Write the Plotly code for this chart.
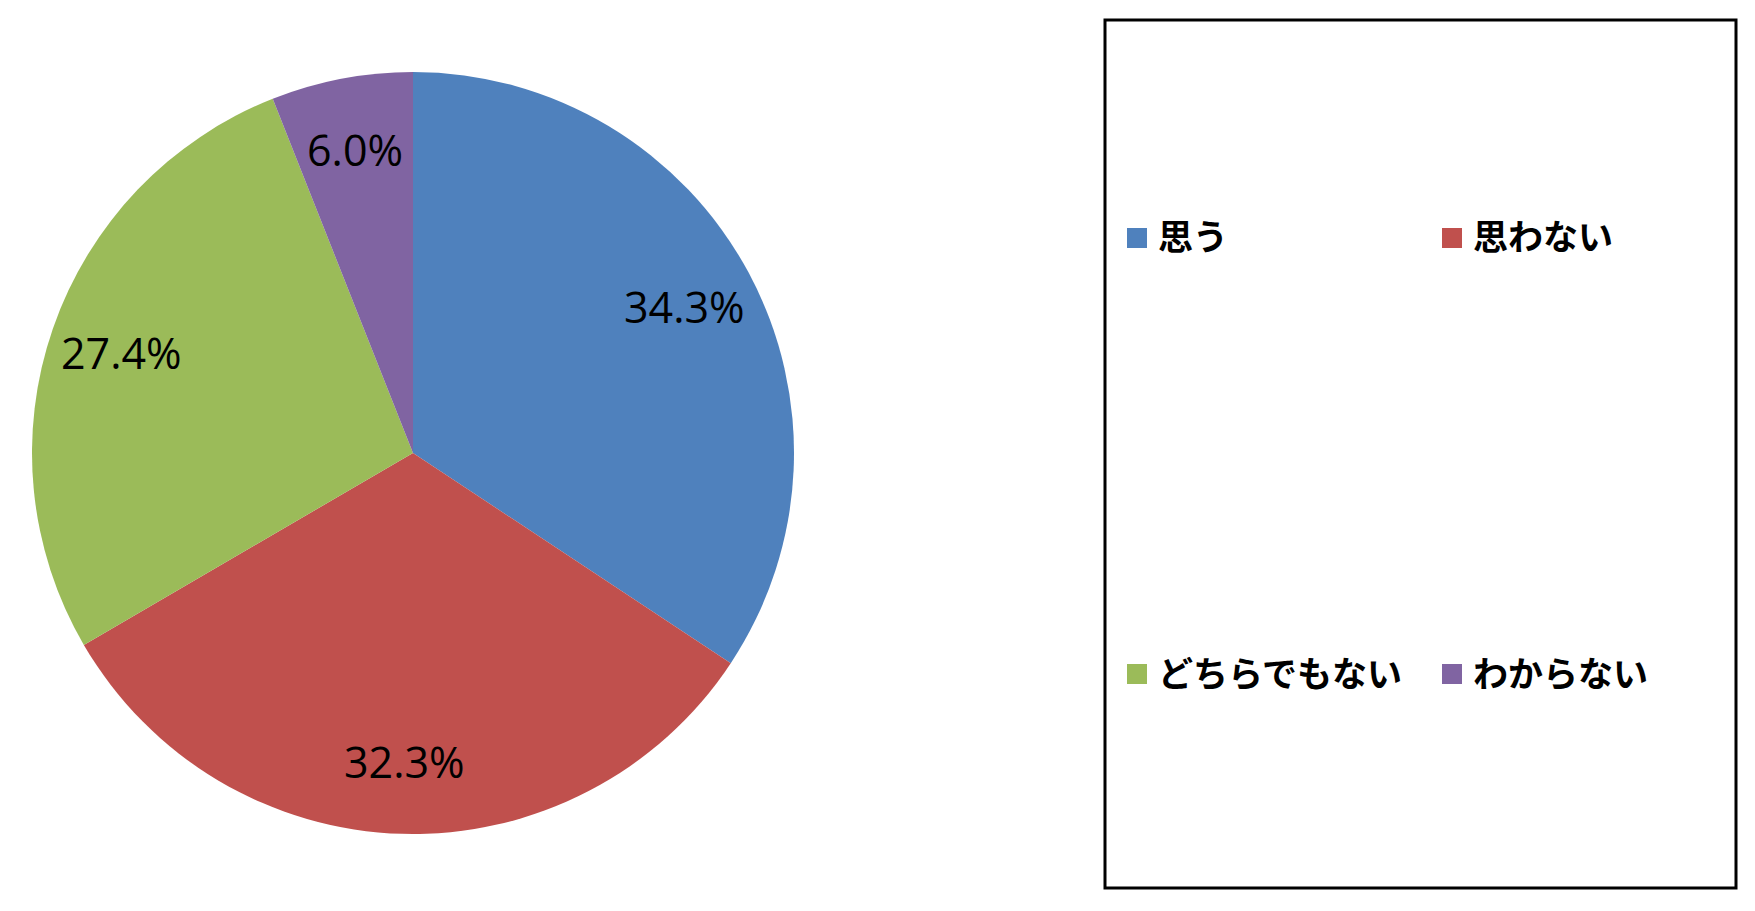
import math
import plotly.graph_objects as go

labels = ["思う", "思わない", "どちらでもない", "わからない"]
values = [34.3, 32.3, 27.4, 6.0]
colors = ["#4F81BD", "#C0504D", "#9BBB59", "#8064A2"]

W, H = 1755, 911
OFF = 8  # page body margin
cx, cy, R = 413 - OFF, 453 - OFF, 381
label_r = 0.81

fig = go.Figure(go.Pie(
    labels=labels, values=values, sort=False, direction="clockwise", rotation=0,
    marker=dict(colors=colors, line=dict(width=0)),
    textinfo="none", hoverinfo="label+percent", showlegend=False,
    domain=dict(x=[(cx - R) / W, (cx + R) / W], y=[1 - (cy + R) / H, 1 - (cy - R) / H]),
))

annotations = []
total = sum(values)
cum = 0.0
for v in values:
    mid = (cum + v / 2) / total * 2 * math.pi
    cum += v
    px = cx + label_r * R * math.sin(mid)
    py = cy - label_r * R * math.cos(mid)
    annotations.append(dict(
        x=px / W, y=1 - py / H, xref="paper", yref="paper", showarrow=False,
        text=f"{v:.1f}%", font=dict(family="Open Sans", size=43, color="black"),
        xanchor="center", yanchor="middle",
    ))

shapes = [dict(type="rect", xref="paper", yref="paper",
               x0=(1105 - OFF) / W, x1=(1736 - OFF) / W,
               y0=1 - (888 - OFF) / H, y1=1 - (20 - OFF) / H,
               line=dict(color="black", width=3), fillcolor="rgba(0,0,0,0)")]

leg_x = [1127, 1442, 1127, 1442]
leg_y = [238, 238, 674, 674]
for lab, col, lx, ly in zip(labels, colors, leg_x, leg_y):
    lx -= OFF
    ly -= OFF
    shapes.append(dict(type="rect", xref="paper", yref="paper",
                       x0=lx / W, x1=(lx + 20) / W, y0=1 - (ly + 10) / H, y1=1 - (ly - 10) / H,
                       line=dict(width=0), fillcolor=col))
    annotations.append(dict(
        x=(lx + 29) / W, y=1 - (ly - 3) / H, xref="paper", yref="paper", showarrow=False,
        text=lab, font=dict(family="Noto Sans CJK JP", size=35, color="black", weight="bold"),
        xanchor="left", yanchor="middle",
    ))

fig.update_layout(
    width=W, height=H, margin=dict(l=0, r=0, t=0, b=0),
    paper_bgcolor="white", plot_bgcolor="white",
    annotations=annotations, shapes=shapes,
)

fig.write_html("out.html")
